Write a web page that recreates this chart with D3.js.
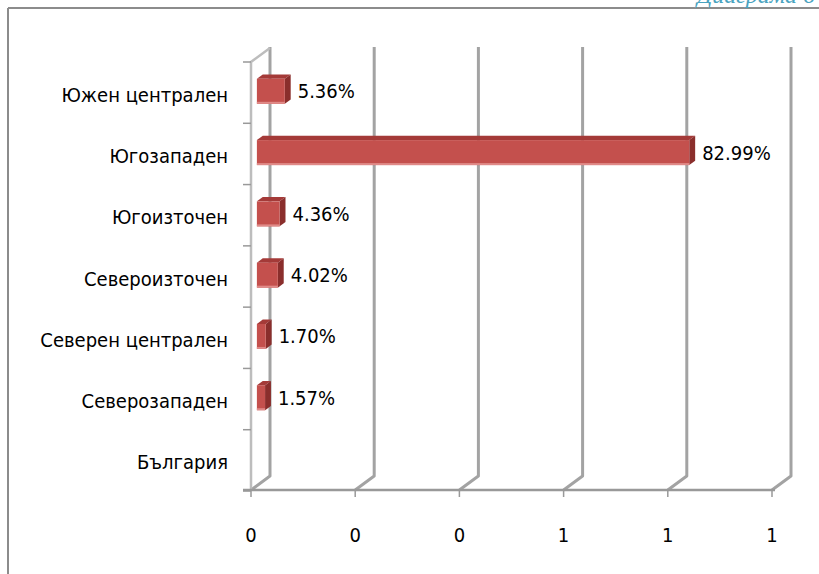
<!DOCTYPE html>
<html><head><meta charset="utf-8">
<script src="https://cdn.jsdelivr.net/npm/d3@7/dist/d3.min.js"></script>
<style>
html,body{margin:0;padding:0;background:#fff;}
svg{display:block;}
</style></head>
<body>
<script>
const categories = ["Южен централен","Югозападен","Югоизточен","Североизточен","Северен централен","Северозападен","България"];
const values = [5.36, 82.99, 4.36, 4.02, 1.70, 1.57, null];
const tickValues = [0, 0.2, 0.4, 0.6, 0.8, 1.0];
const caption = "Диаграма";

(function(){
const W = 819, H = 574;
const svg = d3.select("body").append("svg").attr("width", W).attr("height", H);
const FONT = "'Liberation Sans Narrow','DejaVu Sans Condensed',sans-serif";
const FS = 20;

// outer frame
svg.append("line").attr("x1",8).attr("y1",8).attr("x2",W).attr("y2",8).attr("stroke","#8c8c8c").attr("stroke-width",2);
svg.append("line").attr("x1",8).attr("y1",8).attr("x2",8).attr("y2",H).attr("stroke","#8c8c8c").attr("stroke-width",2);

// cut-off caption at top right (cropped in the reference as well)
svg.append("text").attr("x",815).attr("y",3).attr("text-anchor","end")
  .attr("font-family","'Liberation Serif','DejaVu Serif',serif").attr("font-style","italic")
  .attr("font-size",24).attr("fill","#4aa3c0").text(caption + " 6");

const x = d3.scaleLinear().domain([0,1]).range([251, 772]);
const y = d3.scaleBand().domain(categories).range([62, 491]).padding(0);
const DX = 19, DY = -14;
const yBot = 490, yTop = 62;

const g = svg.append("g");

tickValues.forEach(v => {
  const xf = x(v);
  g.append("path")
    .attr("d", `M${xf+DX},${yTop+DY-1} L${xf+DX},${yBot+DY} L${xf},${yBot}`)
    .attr("fill","none").attr("stroke","#a3a3a3").attr("stroke-width",3).attr("stroke-linejoin","round");
});
g.append("path")
  .attr("d", `M${x(0)},${yBot} L${x(0)},${yTop} L${x(0)+DX},${yTop+DY}`)
  .attr("fill","none").attr("stroke","#bdbdbd").attr("stroke-width",2.5);

g.append("line").attr("x1",x(0)-8).attr("x2",x(1)+3).attr("y1",yBot).attr("y2",yBot)
  .attr("stroke","#999").attr("stroke-width",2.5);
tickValues.forEach(v => {
  g.append("line").attr("x1",x(v)).attr("x2",x(v)).attr("y1",yBot).attr("y2",yBot+7)
    .attr("stroke","#999").attr("stroke-width",1.5);
});
const bounds = categories.map(c => y(c)).concat([y.range()[1]]);
bounds.forEach(b => {
  g.append("line").attr("x1",x(0)-8).attr("x2",x(0)).attr("y1",b).attr("y2",b)
    .attr("stroke","#999").attr("stroke-width",1.5);
});

const fmt = d3.format(".0f");
tickValues.forEach(v => {
  svg.append("text").attr("x",x(v)).attr("y",535).attr("text-anchor","middle")
    .attr("dominant-baseline","central").attr("font-family",FONT).attr("font-size",FS)
    .attr("fill","#000").text(fmt(v));
});
categories.forEach(c => {
  svg.append("text").attr("x",228).attr("y",y(c)+y.bandwidth()/2+2).attr("text-anchor","end")
    .attr("dominant-baseline","central").attr("font-family",FONT).attr("font-size",FS)
    .attr("fill","#000").text(c);
});

const f0 = 0.31, f1 = 0.62;
const bh = 25;
const bars = svg.append("g");
categories.forEach((c,i) => {
  const v = values[i];
  if (v == null) return;
  const ox = DX*f0, oy = DY*f0;
  const dx = DX*(f1-f0), dy = DY*(f1-f0);
  const x0 = x(0)+ox, x1 = x(v/100)+ox;
  const cy = y(c)+y.bandwidth()/2 + oy + 3;
  const y0 = cy - bh/2, y1 = cy + bh/2;
  bars.append("path").attr("d",`M${x0},${y0} L${x0+dx},${y0+dy} L${x1+dx},${y0+dy} L${x1},${y0} Z`)
    .attr("fill","#a43a38");
  bars.append("path").attr("d",`M${x1},${y0} L${x1+dx},${y0+dy} L${x1+dx},${y1+dy} L${x1},${y1} Z`)
    .attr("fill","#8a2e2c");
  bars.append("rect").attr("x",x0).attr("y",y0).attr("width",x1-x0).attr("height",bh)
    .attr("fill","#c4504d");
  bars.append("rect").attr("x",x0).attr("y",y1-2).attr("width",x1-x0).attr("height",2)
    .attr("fill","#e08a88");
  svg.append("text").attr("x",x1+dx+7).attr("y",cy).attr("dominant-baseline","central")
    .attr("font-family",FONT).attr("font-size",FS).attr("fill","#000")
    .text(d3.format(".2f")(v)+"%");
});
})();
</script>
</body></html>
